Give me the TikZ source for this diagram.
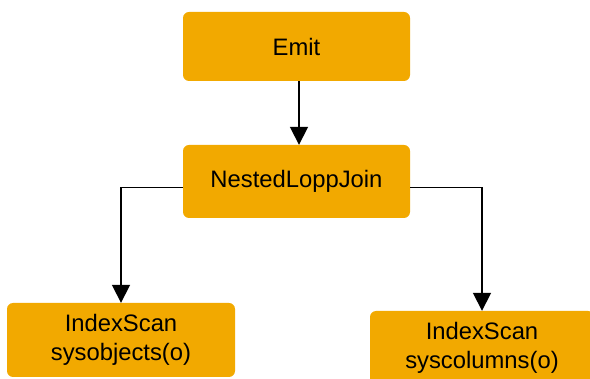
\documentclass[tikz,border=0pt]{standalone}
\usepackage{fontspec}
\setmainfont{Liberation Sans}
\usepackage{tikz}
\usetikzlibrary{arrows.meta, positioning, calc}
\definecolor{planorange}{RGB}{242,169,0}

\begin{document}
\begin{tikzpicture}[x=1pt,y=-1pt,
    opbox/.style={rectangle,fill=planorange,rounded corners=6pt,minimum width=227pt,minimum height=69pt,inner sep=0pt,align=center,font=\fontsize{23.8}{29}\selectfont},
    flow/.style={-{Triangle[length=18pt,width=18pt]},line width=1.8pt,black}]
    \useasboundingbox (0,0) rectangle (590,379);

    % Operatori del piano
    \node[opbox] (emit) at (296.5,46.5) {Emit};
    \node[opbox,minimum height=73pt] (nlj) at (296.5,181.5) {NestedLoppJoin};
    \node[opbox,minimum width=228pt,minimum height=74pt] (scanobj) at (121,340) {IndexScan\\sysobjects(o)};
    \node[opbox,minimum width=224pt,minimum height=74pt] (scancol) at (482,348) {IndexScan\\syscolumns(o)};

    % Connessioni
    \draw[flow] ([xshift=2.5pt]emit.south) -- ([xshift=2.5pt]nlj.north);
    \draw[flow] ([yshift=-6pt]nlj.west) -| (scanobj.north);
    \draw[flow] ([yshift=-6pt]nlj.east) -| (scancol.north);
\end{tikzpicture}
\end{document}
